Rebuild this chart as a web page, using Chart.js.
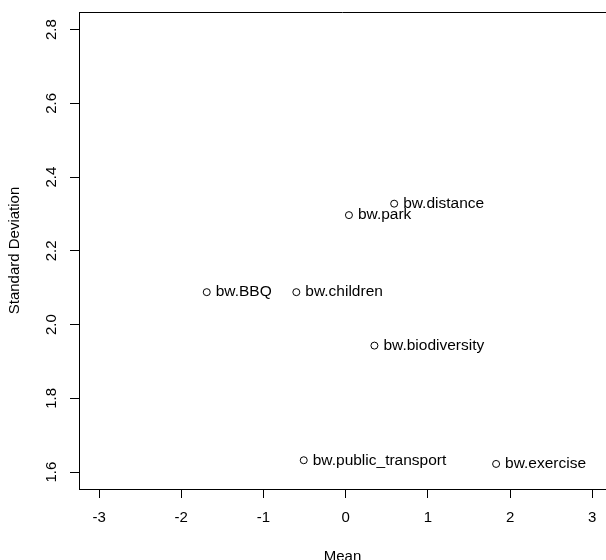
<!DOCTYPE html>
<html>
<head>
<meta charset="utf-8">
<script src="https://cdn.jsdelivr.net/npm/chart.js@4/dist/chart.umd.min.js"></script>
<style>
  html, body { margin: 0; padding: 0; background: #fff; overflow: hidden; }
  #wrap { width: 606px; height: 560px; }
</style>
</head>
<body>
<div id="wrap"><canvas id="scatter" width="606" height="560"></canvas></div>
<script>
const names = ['bw.distance', 'bw.park', 'bw.BBQ', 'bw.children', 'bw.biodiversity', 'bw.public_transport', 'bw.exercise'];
const means = [0.59, 0.04, -1.69, -0.60, 0.35, -0.51, 1.83];
const sds = [2.328, 2.297, 2.088, 2.088, 1.943, 1.632, 1.622];

const xTicks = [-3, -2, -1, 0, 1, 2, 3];
const yTicks = [1.6, 1.8, 2.0, 2.2, 2.4, 2.6, 2.8];

const FONT = '"Liberation Sans", Arial, Helvetica, sans-serif';

const points = means.map((m, i) => ({ x: m, y: sds[i] }));

// labels next to points, rotated y tick labels and the top edge of the box
const rPlot = {
  id: 'rPlot',
  afterDraw(chart) {
    const c = chart.ctx;
    const area = chart.chartArea;
    const ys = chart.scales.y;
    c.save();
    c.strokeStyle = '#000';
    c.lineWidth = 1;
    c.beginPath();
    c.moveTo(area.left, Math.round(area.top) + 0.5);
    c.lineTo(chart.width, Math.round(area.top) + 0.5);
    c.stroke();

    c.fillStyle = '#000';
    c.font = '15px ' + FONT;
    c.textAlign = 'center';
    c.textBaseline = 'middle';
    ys.ticks.forEach(t => {
      c.save();
      c.translate(52, ys.getPixelForValue(t.value));
      c.rotate(-Math.PI / 2);
      c.fillText(t.value.toFixed(1), 0, 0);
      c.restore();
    });

    c.font = '15.5px ' + FONT;
    c.textAlign = 'left';
    const meta = chart.getDatasetMeta(0);
    meta.data.forEach((pt, i) => {
      c.fillText(names[i], pt.x + 9, pt.y);
    });
    c.restore();
  }
};

new Chart(document.getElementById('scatter'), {
  type: 'scatter',
  data: {
    datasets: [{
      data: points,
      pointRadius: 3.5,
      pointHoverRadius: 3.5,
      pointBorderWidth: 1,
      borderColor: '#000',
      backgroundColor: 'rgba(0,0,0,0)'
    }]
  },
  options: {
    responsive: false,
    animation: false,
    layout: { autoPadding: false, padding: { top: 12, left: 0, right: 0, bottom: 0 } },
    plugins: { legend: { display: false }, tooltip: { enabled: false } },
    scales: {
      x: {
        type: 'linear',
        min: -3.244,
        max: 3.167,
        afterBuildTicks: s => { s.ticks = xTicks.map(v => ({ value: v })); },
        afterFit: s => { s.height = 71; s.paddingLeft = 0; s.paddingRight = 0; },
        grid: { drawOnChartArea: false, tickLength: 9, color: '#000' },
        border: { display: true, color: '#000' },
        ticks: { color: '#000', padding: 11, maxRotation: 0, font: { size: 15, family: FONT } },
        title: { display: true, text: 'Mean', color: '#000', padding: 0, font: { size: 15, family: FONT, lineHeight: 0.4 } }
      },
      y: {
        type: 'linear',
        min: 1.554,
        max: 2.848,
        afterBuildTicks: s => { s.ticks = yTicks.map(v => ({ value: v })); },
        afterFit: s => { s.width = 79; s.paddingTop = 0; s.paddingBottom = 0; },
        grid: { drawOnChartArea: false, tickLength: 9, color: '#000' },
        border: { display: true, color: '#000' },
        ticks: { display: false },
        title: { display: true, text: 'Standard Deviation', color: '#000', padding: { top: 10, bottom: 0 }, font: { size: 15, family: FONT, lineHeight: 0.667 } }
      }
    }
  },
  plugins: [rPlot]
});
</script>
</body>
</html>
